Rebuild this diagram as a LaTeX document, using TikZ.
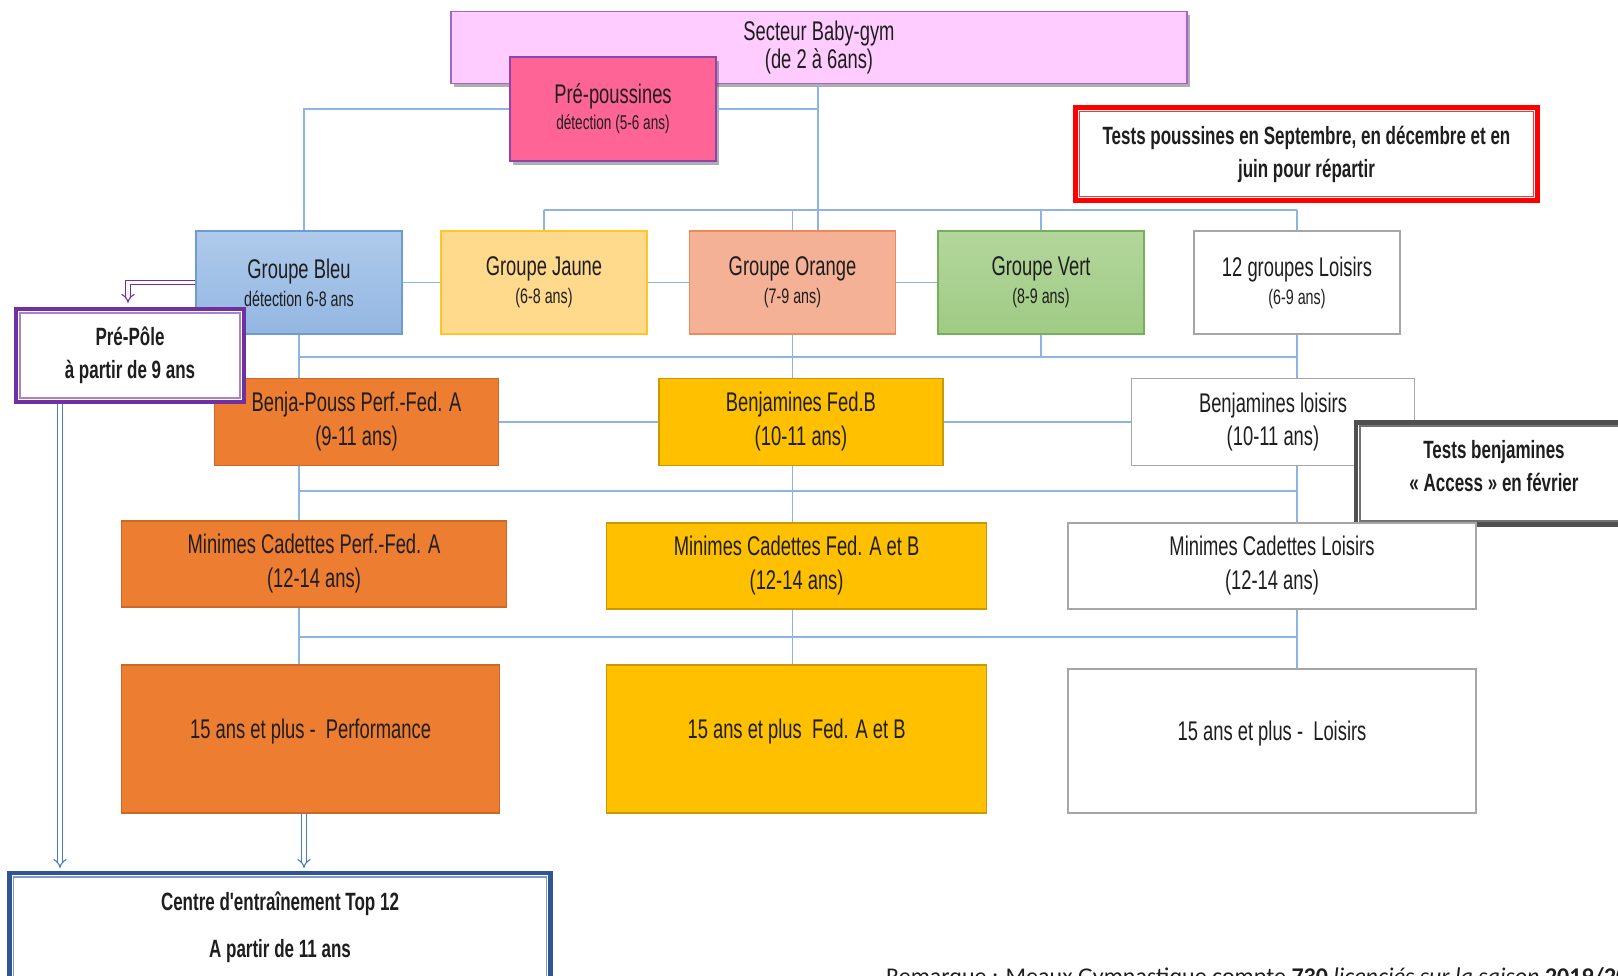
\documentclass[tikz,border=0pt]{standalone}
\usepackage{fontspec}
\newfontfamily\agency{Liberation Sans}[FakeStretch=0.68]
\newfontfamily\calib{Carlito}
\usetikzlibrary{arrows.meta,shadows}
\definecolor{conn}{HTML}{8EB4E3}
\definecolor{txt}{HTML}{1E1E1E}
\definecolor{sectfill}{HTML}{FFCCFF}
\definecolor{sectdraw}{HTML}{A066C8}
\definecolor{prepfill}{HTML}{FF6496}
\definecolor{prepdraw}{HTML}{8E44AD}
\definecolor{bleutop}{HTML}{AFCAEB}
\definecolor{bleubot}{HTML}{93B7E2}
\definecolor{bleudraw}{HTML}{6E9BD3}
\definecolor{jaunefill}{HTML}{FFD98C}
\definecolor{jaunedraw}{HTML}{FFC629}
\definecolor{orangefill}{HTML}{F5B195}
\definecolor{orangedraw}{HTML}{EE8A5A}
\definecolor{verttop}{HTML}{B3D69C}
\definecolor{vertbot}{HTML}{9FCB84}
\definecolor{vertdraw}{HTML}{76B05A}
\definecolor{greydraw}{HTML}{A6A6A6}
\definecolor{perffill}{HTML}{ED7D31}
\definecolor{perfdraw}{HTML}{C8692A}
\definecolor{fedfill}{HTML}{FFC000}
\definecolor{feddraw}{HTML}{C99A00}
\definecolor{redbox}{HTML}{FF0000}
\definecolor{darkbox}{HTML}{505050}
\definecolor{purplebox}{HTML}{7030A0}
\definecolor{bluebox}{HTML}{2F5597}
\definecolor{arrowblue}{HTML}{4A7CC4}
\begin{document}
\begin{tikzpicture}[x=1pt,y=-1pt,
  box/.style={rectangle, inner sep=0pt, align=center, text=txt, line width=1.3pt},
  bigf/.style={font=\agency\fontsize{27}{28}\selectfont},
  boldf/.style={font=\agency\bfseries\fontsize{25}{33}\selectfont},
  shad/.style={drop shadow={shadow xshift=3pt, shadow yshift=-4pt, opacity=0.45, fill=black!70}},
  outerb/.style={draw=#1, line width=4.2pt, fill=white},
  innerb/.style={draw=#1, line width=1.3pt},
  conn/.style={draw=conn, line width=1.8pt},
  darrow/.style={draw=#1, double=white, line width=1.1pt, double distance=3.5pt, -{Implies}}
]
\useasboundingbox (0,0) rectangle (1618,976);
\clip (0,0) rectangle (1618,976);

% ---- top ----
\node[box, bigf, shad, fill=sectfill, draw=sectdraw, minimum width=736, minimum height=72] (sect) at (819,47.5) {Secteur Baby-gym\\(de 2 à 6ans)};
\node[box, bigf, shad, fill=prepfill, draw=prepdraw, minimum width=206, minimum height=104] (prep) at (613,109) {Pré-poussines\\[-2pt]{\fontsize{20}{26}\selectfont détection (5-6 ans)}};
\node[box, boldf, outerb=redbox, minimum width=462, minimum height=93] (testp) at (1306.5,154) {Tests poussines en Septembre, en décembre et en\\juin pour répartir};
\draw[innerb=redbox!80] ([shift={(6pt,-6pt)}]testp.north west) rectangle ([shift={(-6pt,6pt)}]testp.south east);

% ---- groups ----
\node[box, bigf, top color=bleutop, bottom color=bleubot, draw=bleudraw, minimum width=206, minimum height=103] (bleu) at (299,282.5) {Groupe Bleu\\{\fontsize{21}{27}\selectfont détection 6-8 ans}};
\node[box, bigf, fill=jaunefill, draw=jaunedraw, minimum width=206, minimum height=103] (jaune) at (544,282.5) {Groupe Jaune\\{\fontsize{21}{27}\selectfont (6-8 ans)}};
\node[box, bigf, fill=orangefill, draw=orangedraw, minimum width=206, minimum height=103] (orange) at (792.5,282.5) {Groupe Orange\\{\fontsize{21}{27}\selectfont (7-9 ans)}};
\node[box, bigf, top color=verttop, bottom color=vertbot, draw=vertdraw, minimum width=206, minimum height=103] (vert) at (1041,282.5) {Groupe Vert\\{\fontsize{21}{27}\selectfont (8-9 ans)}};
\node[box, bigf, fill=white, draw=greydraw, minimum width=206, minimum height=103] (loisirs) at (1297,282.5) {12 groupes Loisirs\\{\fontsize{21}{27}\selectfont (6-9 ans)}};

% ---- row 2 ----
\node[box, bigf, fill=perffill, draw=perfdraw, minimum width=284, minimum height=87] (benja) at (356.5,422) {Benja-Pouss Perf.-Fed. A\\[6pt](9-11 ans)};
\node[box, bigf, fill=fedfill, draw=feddraw, minimum width=284, minimum height=87] (fedb) at (801,422) {Benjamines Fed.B\\[6pt](10-11 ans)};
\node[box, bigf, fill=white, draw=greydraw, minimum width=283, minimum height=87] (benjl) at (1273,422) {Benjamines loisirs\\[5pt](10-11 ans)};
\node[box, boldf, outerb=darkbox, line width=4.6pt, minimum width=276, minimum height=102] (testb) at (1494,473.5) {Tests benjamines\\« Access » en février\\[-18pt]\mbox{}};
\draw[innerb=darkbox!80, line width=1.8pt] ([shift={(6pt,-6pt)}]testb.north west) rectangle ([shift={(-6pt,6pt)}]testb.south east);

% ---- row 3 ----
\node[box, bigf, fill=perffill, draw=perfdraw, minimum width=385, minimum height=86] (minp) at (314,564) {Minimes Cadettes Perf.-Fed. A\\[6pt](12-14 ans)};
\node[box, bigf, fill=fedfill, draw=feddraw, minimum width=380, minimum height=86] (minf) at (796.6,566) {Minimes Cadettes Fed. A et B\\[6pt](12-14 ans)};
\node[box, bigf, fill=white, draw=greydraw, minimum width=408, minimum height=86] (minl) at (1272,566) {Minimes Cadettes Loisirs\\[6pt](12-14 ans)};

% ---- row 4 ----
\node[box, bigf, fill=perffill, draw=perfdraw, minimum width=378, minimum height=148, text depth=20pt] (perfq) at (310.6,739) {15 ans et plus -\ \ Performance};
\node[box, bigf, fill=fedfill, draw=feddraw, minimum width=380, minimum height=148, text depth=20pt] (fedq) at (796.6,739) {15 ans et plus\ \ Fed. A et B};
\node[box, bigf, fill=white, draw=greydraw, minimum width=408, minimum height=144, text depth=20pt] (loisq) at (1272,741) {15 ans et plus -\ \ Loisirs};

% ---- left side ----
\node[box, boldf, outerb=purplebox, minimum width=228, minimum height=93] (prepole) at (130,355.5) {Pré-Pôle\\à partir de 9 ans};
\draw[innerb=purplebox!60] ([shift={(6pt,-6pt)}]prepole.north west) rectangle ([shift={(-6pt,6pt)}]prepole.south east);
\node[box, boldf, outerb=bluebox, minimum width=541, minimum height=124, anchor=north] (centre) at (280,871) {Centre d'entraînement Top 12\\[14pt]A partir de 11 ans\\[-12pt]\mbox{}};
\draw[innerb=bluebox!60] ([shift={(6pt,-6pt)}]centre.north west) rectangle ([shift={(-6pt,6pt)}]centre.south east);

% ---- remark (cut by the page edge) ----
\node[anchor=base west, inner sep=0pt, text=txt, font=\calib\fontsize{24}{28}\selectfont] (rem) at (886,984) {Remarque : Meaux Gymnastique compte \textbf{730} \textit{licenciés sur la saison} \textbf{2019/2020}};

% ---- coordinates ----
\coordinate (xA) at (818,0);
\coordinate (xB) at (304,0);
\coordinate (xP) at (128,0);
\coordinate (xQ) at (60,0);
\coordinate (xR) at (304,0);
\coordinate (yb1) at (0,210);
\coordinate (yb2) at (0,357);
\coordinate (yb3) at (0,491);
\coordinate (yb4) at (0,637);

% ---- connectors ----
\draw[conn, line width=2.6pt] (sect.south -| xA) -- (orange.north -| xA);
\draw[conn] (prep.east) -- (prep.east -| xA);
\draw[conn] (prep.west) -| (bleu.north -| xB);
\draw[conn] (jaune.north |- yb1) -- (loisirs.north |- yb1);
\foreach \n in {jaune,orange,vert,loisirs} \draw[conn] (\n.north |- yb1) -- (\n.north);
\draw[conn] (bleu.east) -- (jaune.west);
\draw[conn] (jaune.east) -- (orange.west);
\draw[conn] (orange.east) -- (vert.west);

\draw[conn] (bleu.south |- yb2) -- (loisirs.south |- yb2);
\draw[conn] (bleu.south) -- (bleu.south |- benja.north);
\draw[conn] (orange.south) -- (orange.south |- fedb.north);
\draw[conn] (vert.south) -- (vert.south |- yb2);
\draw[conn] (loisirs.south) -- (loisirs.south |- benjl.north);

\draw[conn] (benja.east) -- (fedb.west);
\draw[conn] (fedb.east) -- (benjl.west);

\draw[conn] (bleu.south |- yb3) -- (loisirs.south |- yb3);
\draw[conn] (benja.south -| bleu.south) -- (minp.north -| bleu.south);
\draw[conn] (fedb.south -| orange.south) -- (minf.north -| orange.south);
\draw[conn] (benjl.south -| loisirs.south) -- (minl.north -| loisirs.south);

\draw[conn] (bleu.south |- yb4) -- (loisirs.south |- yb4);
\draw[conn] (minp.south -| bleu.south) -- (perfq.north -| bleu.south);
\draw[conn] (minf.south -| orange.south) -- (fedq.north -| orange.south);
\draw[conn] (minl.south -| loisirs.south) -- (loisq.north -| loisirs.south);

% ---- double arrows ----
\draw[darrow=purplebox, shorten >=4pt] (bleu.west) -| (prepole.north -| xP);
\draw[darrow=arrowblue, shorten >=3pt] (prepole.south -| xQ) -- (centre.north -| xQ);
\draw[darrow=arrowblue, shorten >=3pt] (perfq.south -| xR) -- (centre.north -| xR);
\end{tikzpicture}
\end{document}
